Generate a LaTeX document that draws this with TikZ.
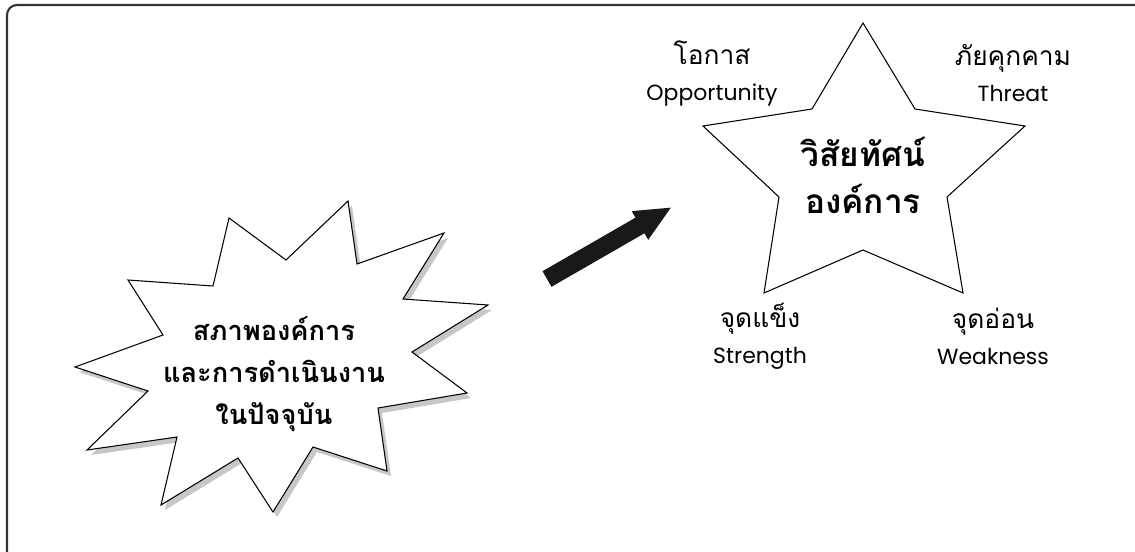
\documentclass[tikz,border=0pt]{standalone}
\usepackage{fontspec}
\newfontfamily\thaifont[Script=Thai]{Loma}
\newfontfamily\latinfont{Poppins}
\usepackage{tikz}
\usetikzlibrary{arrows.meta}

\begin{document}
\begin{tikzpicture}[x=0.02cm,y=-0.02cm,
    lbl/.style={align=center,inner sep=0pt,font=\fontsize{15}{20.5}\selectfont},
    title/.style={align=center,inner sep=0pt,font=\thaifont\bfseries}]
                \def\burst{(229,218) -- (286,260) -- (348,201) -- (357,264) -- (444,233) --
                    (403,299) -- (488,305) -- (412,352) -- (467,393) -- (378,408) --
                    (387,471) -- (313,447) -- (273,512) -- (238,458) -- (161,505) --
                    (177,437) -- (87,450) -- (148,391) -- (75,367) -- (163,335) --
                    (128,280) -- (213,286) -- cycle}
                \useasboundingbox (0,0) rectangle (1135,551);
                \clip (0,0) rectangle (1135,551);
                % Frame
                \draw[line width=1.2pt,black!80,rounded corners=0.2cm] (7,5) rectangle (1150,566);
                % Burst with shadow
                \fill[black!22,shift={(4,5)}] \burst;
                \filldraw[fill=white,draw=black,line width=0.6pt] \burst;
                \node[title,font=\thaifont\bfseries\fontsize{15.5}{24}\selectfont] (now) at (274,374)
                    {สภาพองค์การ\\และการดำเนินงาน\\ในปัจจุบัน};
                % Star
                \filldraw[fill=white,draw=black,line width=0.6pt]
                    (863,23) -- (915,109) -- (1025,126) -- (947,197) -- (963,293) --
                    (863,250) -- (764,293) -- (779,197) -- (703,126) -- (812,109) -- cycle;
                \node[title,font=\thaifont\bfseries\fontsize{19}{26.7}\selectfont] (vision) at (863,175)
                    {วิสัยทัศน์\\องค์การ};
                % Corner labels
                \foreach \x/\y/\th/\en/\nm in {
                    712/73/โอกาส/Opportunity/opp, 1013/73/ภัยคุกคาม/Threat/thr,
                    760/336/จุดแข็ง/Strength/str, 993/336/จุดอ่อน/Weakness/wea} {
                    \node[lbl] (\nm) at (\x,\y) {{\thaifont\fontsize{15}{20.5}\selectfont\th}\\{\latinfont\fontsize{12.5}{20.5}\selectfont\en}};
                }
                % Arrow
                \coordinate (arrtail) at (547,279);
                \coordinate (arrtip) at (672,207);
                \draw[line width=0.36cm,black!90,-{Triangle[length=0.74cm,width=0.6cm]}] (arrtail) -- (arrtip);
\end{tikzpicture}
\end{document}
